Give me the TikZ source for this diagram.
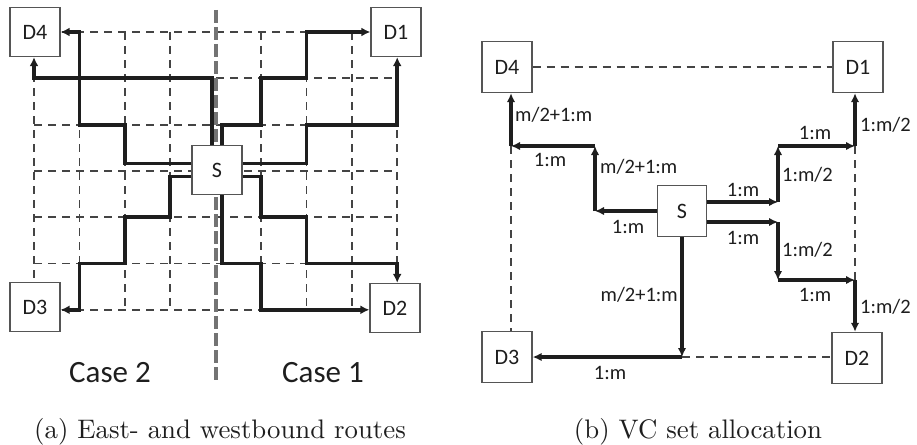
\documentclass[tikz,border=0pt]{standalone}
\usepackage{fontspec}
\newfontfamily\carl{Carlito}
\newfontfamily\capfont{lmroman10-regular.otf}
\usetikzlibrary{arrows.meta,calc}
\definecolor{ink}{HTML}{1E1E1E}
\definecolor{dashc}{HTML}{444444}
\definecolor{boxc}{HTML}{555555}
\begin{document}
\begin{tikzpicture}[x=1pt,y=-1pt,
  dbox/.style={draw=boxc,line width=1.3pt,fill=white,minimum width=50pt,minimum height=49pt,inner sep=0pt,text=ink,font=\carl\fontsize{22}{24}\selectfont},
  gridline/.style={draw=dashc,line width=1.8pt,dash pattern=on 8pt off 6pt},
  divider/.style={draw=black!55,line width=3.5pt,dash pattern=on 13pt off 4pt},
  route/.style={draw=ink,line width=3.8pt,line join=miter,-{Latex[length=9pt,width=9pt]}},
  vcarrow/.style={draw=ink,line width=3.2pt,-{Latex[length=9pt,width=8.5pt]}},
  vcdash/.style={draw=dashc,line width=1.8pt,dash pattern=on 8pt off 6pt},
  lbl/.style={text=ink,font=\carl\fontsize{20.5}{22}\selectfont,inner sep=0pt,text height=13pt,text depth=0pt},
  caselbl/.style={text=ink,font=\carl\fontsize{31}{33}\selectfont,inner sep=0pt,anchor=base},
  caption/.style={text=ink,font=\capfont\fontsize{26.8}{30}\selectfont,inner sep=0pt,anchor=base}]
\useasboundingbox (0,0) rectangle (917,444);
% ---------------- panel (a) ----------------
\foreach \i in {0,...,8}{\foreach \j in {0,...,6}{
  \coordinate (g\i\j) at ({34+45.4*\i},{32+46.3*\j});}}
\foreach \j in {0,...,6}{\draw[gridline] (g0\j) -- (g8\j);}
\foreach \i in {0,1,2,3,5,6,7,8}{\draw[gridline] (g\i0) -- (g\i6);}
\coordinate (dvt) at (216,10);
\coordinate (dvb) at (216,380);
\draw[divider] (dvt) -- (dvb);
\node[dbox] (D4) at (35,32) {D4};
\node[dbox] (D1) at (396,32) {D1};
\node[dbox] (D3) at (35,307) {D3};
\node[dbox] (D2) at (395,308) {D2};
\node[dbox] (S) at (217,170) {S};
% case 1
\draw[route] ([xshift=5pt]S.north) |- (g52) |- (g61) -- (g60) -- (g60 -| D1.west);
\draw[route] ([yshift=6.5pt]S.east) -| (g62) -- (g82) -- (g82 |- D1.south);
\draw[route] ([yshift=-6.5pt]S.east) -| (g54) -- (g64) -- (g65) -- (g85) -- (g85 |- D2.north);
\draw[route] ([xshift=5pt]S.south) |- (g55) -- (g56) -- (g56 -| D2.west);
% case 2
\draw[route] ([yshift=6.5pt]S.west) -| (g22) -- (g12) -- (g10) -- (g10 -| D4.east);
\draw[route] ([xshift=-5pt]S.north) |- (g01) -- (g01 |- D4.south);
\draw[route] ([yshift=-6.5pt]S.west) -| (g34) -- (g24) -- (g25) -- (g15) -- (g16) -- (g16 -| D3.east);
\node[caselbl] (c2) at (110,382) {Case 2};
\node[caselbl] (c1) at (323,382) {Case 1};
\node[caption] (capa) at (220,438) {(a) East- and westbound routes};
% ---------------- panel (b) ----------------
\node[dbox,minimum height=51pt] (bD4) at (507,67) {D4};
\node[dbox,minimum height=51pt] (bD1) at (858,67) {D1};
\node[dbox,minimum height=51pt] (bD3) at (507,357) {D3};
\node[dbox,minimum height=51pt] (bD2) at (857,358) {D2};
\node[dbox,minimum width=49pt,minimum height=51pt] (bS) at (682,211) {S};
\coordinate (l1) at (511,146);
\coordinate (l2) at (595,146);
\coordinate (l3) at (595,211);
\coordinate (r1) at (778,202);
\coordinate (r2) at (778,146);
\coordinate (r3) at (855,146);
\coordinate (r4) at (778,222);
\coordinate (r5) at (778,280);
\coordinate (r6) at (855,280);
\coordinate (bc) at (682,357);
\draw[vcdash] (bD4.east) -- (bD1.west);
\draw[vcdash] (l1) -- (l1 |- bD3.north);
\draw[vcdash] (r3) -- (r6);
\draw[vcdash] (bc) -- (bc -| bD2.west);
\draw[vcarrow] (bS.west) -- (l3);
\draw[vcarrow] (l3) -- (l2);
\draw[vcarrow] (l2) -- (l1);
\draw[vcarrow] (l1) -- (l1 |- bD4.south);
\draw[vcarrow] (bS.south) -- (bc);
\draw[vcarrow] (bc) -- (bc -| bD3.east);
\draw[vcarrow] (r1 -| bS.east) -- (r1);
\draw[vcarrow] (r1) -- (r2);
\draw[vcarrow] (r2) -- (r3);
\draw[vcarrow] (r3) -- (r3 |- bD1.south);
\draw[vcarrow] (r4 -| bS.east) -- (r4);
\draw[vcarrow] (r4) -- (r5);
\draw[vcarrow] (r5) -- (r6);
\draw[vcarrow] (r6) -- (r6 |- bD2.north);
\node[lbl,anchor=west] (t1) at (515,115) {m/2+1:m};
\node[lbl] (t2) at (550,160) {1:m};
\node[lbl,anchor=west] (t3) at (600,167) {m/2+1:m};
\node[lbl] (t4) at (628,227) {1:m};
\node[lbl,anchor=east] (t5) at (678,295) {m/2+1:m};
\node[lbl] (t6) at (610,373) {1:m};
\node[lbl] (t7) at (743,190) {1:m};
\node[lbl,anchor=west] (t8) at (782,175) {1:m/2};
\node[lbl] (t9) at (815,133) {1:m};
\node[lbl,anchor=west] (t10) at (860,125) {1:m/2};
\node[lbl] (t11) at (743,238) {1:m};
\node[lbl,anchor=west] (t12) at (782,250) {1:m/2};
\node[lbl] (t13) at (815,295) {1:m};
\node[lbl,anchor=west] (t14) at (860,307) {1:m/2};
\node[caption] (capb) at (698,438) {(b) VC set allocation};
\end{tikzpicture}
\end{document}
